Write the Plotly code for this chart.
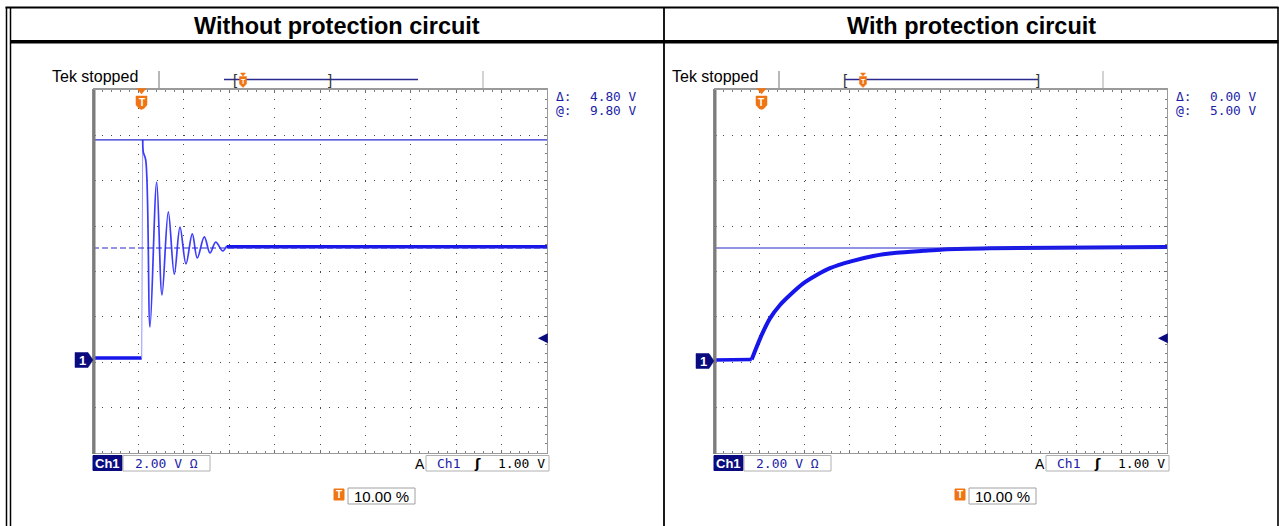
import plotly.graph_objects as go

W, H = 1279, 526


def X(px):
    return px / W


def Y(py):
    return 1 - py / H


# ---------------- data (time in divisions, voltage in volts, 2 V/div) ----------------
panel_titles = ["Without protection circuit", "With protection circuit"]

left_base_t = [0.0, 1.073]
left_base_v = [0.13, 0.13]
left_edge_t = [1.073, 1.095]
left_edge_v = [0.13, 9.74]
left_ring_t = [1.095, 1.108, 1.161, 1.256, 1.403, 1.520, 1.659, 1.791, 1.916,
               2.048, 2.187, 2.297, 2.452, 2.577, 2.703, 2.857, 2.945]
left_ring_v = [9.74, 9.21, 8.86, 1.50, 7.89, 2.91, 6.57, 3.83, 5.90,
               4.28, 5.60, 4.54, 5.47, 4.76, 5.24, 4.85, 5.07]
left_settled_t = [2.945, 10.0]
left_settled_v = [5.04, 5.04]
left_cursor_v = [9.75, 4.98]

right_base_t = [0.0, 0.832]
right_base_v = [0.04, 0.07]
right_rise_t = [0.832, 1.053, 1.236, 1.457, 1.678, 1.971, 2.267, 2.561, 3.002,
                3.517, 4.033, 4.620, 5.062, 6.093, 10.0]
right_rise_v = [0.07, 1.15, 1.88, 2.47, 2.91, 3.42, 3.79, 4.09, 4.38,
                4.63, 4.77, 4.86, 4.92, 4.97, 5.02]
right_cursor_v = [4.98]

cursor_delta = ["4.80 V", "0.00 V"]
cursor_at = ["9.80 V", "5.00 V"]
ch1_label = "Ch1"
ch1_scale = "2.00 V Ω"
trigger_source = "Ch1"
trigger_level_label = "1.00 V"
trigger_level_v = 1.0
trigger_pos_label = "10.00 %"
status_text = "Tek stopped"

# ---------------- styling / geometry ----------------
BLUE = "rgb(22,22,235)"
NAVY = "#0b0b80"
TXTBLUE = "#1c1ca6"
ORANGE = "#f07412"
SANS = "Liberation Sans, Arial, sans-serif"
MONO = "DejaVu Sans Mono, monospace"

TOP, BOT = 90, 453
PX_PER_V = (BOT - TOP) / 8 / 2
GROUND = 361
V_LO = -(BOT - GROUND) / PX_PER_V
V_HI = (GROUND - TOP) / PX_PER_V

panels = [
    dict(xa="x", ya="y", x0=93, x1=547, off=0, cx=["x3", "x4"], cy=["y3", "y4"], gnd=360),
    dict(xa="x2", ya="y2", x0=714, x1=1167, off=620, cx=["x5", "x6"], cy=["y5", "y6"], gnd=361),
]

fig = go.Figure()

# ---- traces: left panel
fig.add_trace(go.Scatter(x=left_base_t, y=left_base_v, mode="lines", xaxis="x", yaxis="y",
                         line=dict(color=BLUE, width=3.5), hoverinfo="skip"))
fig.add_trace(go.Scatter(x=left_edge_t, y=left_edge_v, mode="lines", xaxis="x", yaxis="y",
                         line=dict(color="rgb(150,150,255)", width=1), hoverinfo="skip"))
fig.add_trace(go.Scatter(x=left_ring_t, y=left_ring_v, mode="lines", xaxis="x", yaxis="y",
                         line=dict(color="rgb(60,60,250)", width=1.7, shape="spline", smoothing=1.0),
                         hoverinfo="skip"))
fig.add_trace(go.Scatter(x=left_settled_t, y=left_settled_v, mode="lines", xaxis="x", yaxis="y",
                         line=dict(color=BLUE, width=3.5), hoverinfo="skip"))
for i, c in enumerate(left_cursor_v):
    fig.add_trace(go.Scatter(x=[0, 10], y=[c, c], mode="lines", xaxis="x", yaxis="y",
                             line=dict(color="rgb(40,40,205)", width=1.2,
                                       dash="solid" if i == 0 else "6px,3px"),
                             hoverinfo="skip"))

# ---- traces: right panel
fig.add_trace(go.Scatter(x=right_base_t, y=right_base_v, mode="lines", xaxis="x2", yaxis="y2",
                         line=dict(color=BLUE, width=3.5), hoverinfo="skip"))
fig.add_trace(go.Scatter(x=right_rise_t, y=right_rise_v, mode="lines", xaxis="x2", yaxis="y2",
                         line=dict(color=BLUE, width=4, shape="spline", smoothing=0.8),
                         hoverinfo="skip"))
for c in right_cursor_v:
    fig.add_trace(go.Scatter(x=[0, 10], y=[c, c], mode="lines", xaxis="x2", yaxis="y2",
                             line=dict(color="rgb(40,40,205)", width=1.2), hoverinfo="skip"))

layout = dict(
    width=W, height=H, autosize=False,
    margin=dict(l=0, r=0, t=0, b=0, pad=0),
    paper_bgcolor="white", plot_bgcolor="white",
    showlegend=False,
)

shapes = []
annotations = []


def line(x0, y0, x1, y1, color="black", width=1, dash="solid"):
    shapes.append(dict(type="line", xref="paper", yref="paper",
                       x0=X(x0), y0=Y(y0), x1=X(x1), y1=Y(y1),
                       line=dict(color=color, width=width, dash=dash), layer="above"))


def poly(pts, color, lc=None):
    p = "M " + " L ".join(f"{X(a):.5f},{Y(b):.5f}" for a, b in pts) + " Z"
    shapes.append(dict(type="path", xref="paper", yref="paper", path=p,
                       fillcolor=color, line=dict(color=lc or color, width=0.5), layer="above"))


def rect(x0, y0, x1, y1, fill="white", lc="#a8a8a8", lw=1):
    shapes.append(dict(type="rect", xref="paper", yref="paper",
                       x0=X(x0), y0=Y(y0), x1=X(x1), y1=Y(y1),
                       fillcolor=fill, line=dict(color=lc, width=lw), layer="above"))


def text(t, x, y, size=12, color="black", family=SANS, xanchor="center", bold=False):
    annotations.append(dict(text=f"<b>{t}</b>" if bold else t, xref="paper", yref="paper",
                            x=X(x), y=Y(y), xanchor=xanchor, yanchor="middle",
                            showarrow=False, font=dict(size=size, color=color, family=family)))


# ---- table frame
line(5.5, 7.5, 1278.5, 7.5, width=2)
line(6.5, 7, 6.5, 526, width=1.5)
line(10.5, 7, 10.5, 526, width=1.5)
line(10, 41.7, 1278.5, 41.7, width=3.4)
line(664, 7, 664, 526, width=1.8)
line(1278, 7, 1278, 526, width=1.6)

text(panel_titles[0], 336.5, 26, size=23.5, bold=True)
text(panel_titles[1], 971, 26, size=23.5, bold=True)

for k, p in enumerate(panels):
    xa, ya = p["xa"], p["ya"]
    xn = xa.replace("x", "xaxis") if xa != "x" else "xaxis"
    yn = ya.replace("y", "yaxis") if ya != "y" else "yaxis"
    x0, x1, o = p["x0"], p["x1"], p["off"]
    xc = (x0 + x1) / 2
    common = dict(showticklabels=False, zeroline=False, fixedrange=True)
    layout[xn] = dict(domain=[X(x0), X(x1)], range=[0, 10], anchor=ya,
                      tick0=0, dtick=1, showgrid=True, gridcolor="#4a4a4a", gridwidth=1,
                      griddash="1px,8.08px",
                      ticks="inside", ticklen=3, tickcolor="#707070", tickwidth=1,
                      minor=dict(tick0=0, dtick=0.2, ticks="inside", ticklen=2,
                                 tickcolor="#808080", showgrid=False),
                      showline=True, linecolor="#9a9a9a", linewidth=1, mirror="allticks",
                      **common)
    layout[yn] = dict(domain=[Y(BOT), Y(TOP)], range=[V_LO, V_HI], anchor=xa,
                      tick0=V_LO, dtick=2, showgrid=True, gridcolor="#4a4a4a", gridwidth=1,
                      griddash="1px,8.08px",
                      ticks="inside", ticklen=3, tickcolor="#707070", tickwidth=1,
                      minor=dict(tick0=V_LO, dtick=0.4, ticks="inside", ticklen=2,
                                 tickcolor="#808080", showgrid=False),
                      showline=True, linecolor="#9a9a9a", linewidth=1, mirror="allticks",
                      **common)
    # centre cross lines with tick marks
    for j, (cxa, tk) in enumerate(zip(p["cx"], ["inside", "outside"])):
        layout[cxa.replace("x", "xaxis")] = dict(
            overlaying=xa, anchor="free", position=Y((TOP + BOT) / 2), range=[0, 10],
            tick0=0, dtick=0.2, ticks=tk, ticklen=2, tickcolor="#606060", showgrid=False,
            showline=(j == 0), linecolor="#a8a8a8", linewidth=1, layer="below traces", **common)
    for j, (cya, tk) in enumerate(zip(p["cy"], ["inside", "outside"])):
        layout[cya.replace("y", "yaxis")] = dict(
            overlaying=ya, anchor="free", position=X(xc), range=[V_LO, V_HI],
            tick0=V_LO, dtick=0.4, ticks=tk, ticklen=2, tickcolor="#606060", showgrid=False,
            showline=(j == 0), linecolor="#a8a8a8", linewidth=1, layer="below traces", **common)

    # graticule heavier left/top borders
    line(x0 + 1, TOP - 1, x0 + 1, BOT + 1, color="#7c7c7c", width=3)
    line(x0, TOP - 1, x1 + 1, TOP - 1, color="#9a9a9a", width=2)

    # status + record bar
    text(status_text, 50 + o, 76, size=16, family=SANS, xanchor="left")
    line(159 + o, 71, 159 + o, 88, color="#a0a0a0", width=1.5)
    line(483 + o, 71, 483 + o, 88, color="#c4c4c4", width=1.5)
    if k == 0:
        bl0, bl1, br0, br1, tpos = 224, 418, 235, 330, 243
    else:
        bl0, bl1, br0, br1, tpos = 845, 1038, 845, 1038, 863
    line(bl0, 79.5, bl1, 79.5, color="#2a2a90", width=1.3)
    for bx, ch in ((br0, "["), (br1, "]")):
        text(ch, bx, 80, size=15, color="#333", family=SANS)
    # small trigger marker on record bar
    poly([(tpos - 2.5, 73), (tpos + 2.5, 73), (tpos, 76)], ORANGE)
    poly([(tpos - 3.5, 76.5), (tpos + 3.5, 76.5), (tpos + 3.5, 84), (tpos, 87.5), (tpos - 3.5, 84)], ORANGE)
    text("T", tpos, 81, size=7, color="white", bold=True)

    # trigger marker on graticule
    tx = 141.5 + o
    poly([(tx - 4.5, 88.5), (tx + 4.5, 88.5), (tx, 94)], ORANGE)
    poly([(tx - 5.5, 96), (tx + 5.5, 96), (tx + 5.5, 105), (tx + 2.5, 108.5), (tx, 109.5),
          (tx - 2.5, 108.5), (tx - 5.5, 105)], ORANGE)
    text("T", tx, 102.5, size=10, color="white", bold=True, family=SANS)

    # cursor readouts
    text("Δ:", x1 + 7, 97, size=13, color=TXTBLUE, family=MONO, xanchor="left")
    text("@:", x1 + 7, 111, size=13, color=TXTBLUE, family=MONO, xanchor="left")
    text(cursor_delta[k], x1 + 92, 97, size=12.8, color=TXTBLUE, family=MONO, xanchor="right")
    text(cursor_at[k], x1 + 92, 111, size=12.8, color=TXTBLUE, family=MONO, xanchor="right")

    # ground marker "1"
    g = p["gnd"]
    poly([(x0 - 18, g - 7.5), (x0 - 5, g - 7.5), (x0, g), (x0 - 5, g + 7.5), (x0 - 18, g + 7.5)], NAVY)
    text("1", x0 - 11, g, size=13, color="white", bold=True, family=SANS)

    # trigger level arrow
    annotations.append(dict(xref=xa, yref=ya, x=9.8, y=trigger_level_v, ax=8, ay=0, text="",
                            showarrow=True, arrowhead=2, arrowsize=1.1, arrowwidth=1.8,
                            arrowcolor=NAVY))

    # bottom readouts
    rect(x0, 455.5, x0 + 29, 470.5, fill=NAVY, lc=NAVY)
    text(ch1_label, x0 + 14.5, 463.5, size=13, color="white", family=SANS, bold=True)
    rect(x0 + 30, 455.5, x0 + 117, 471, fill="white", lc="#b0b0b0")
    text(ch1_scale, x0 + 73, 463.5, size=13, color=TXTBLUE, family=MONO)
    text("A", x1 - 127, 463.5, size=14, color="black", family=SANS)
    rect(x1 - 121, 455.5, x1 + 2, 471, fill="white", lc="#b0b0b0")
    text(trigger_source, x1 - 99, 463.5, size=13, color=TXTBLUE, family=MONO)
    text("ʃ", x1 - 70, 463.5, size=13, color="black", family="DejaVu Sans", bold=True)
    text(trigger_level_label, x1, 463.5, size=13, color="black", family=MONO, xanchor="right")

    bc = 381 + o + (1 if k else 0)
    rect(bc - 47, 489, bc - 37, 500, fill=ORANGE, lc=ORANGE)
    text("T", bc - 42, 494.5, size=10, color="white", bold=True)
    rect(bc - 33, 488, bc + 34, 504, fill="white", lc="#a0a0a0")
    text(trigger_pos_label, bc, 496, size=15, color="black", family=SANS)

layout["shapes"] = shapes
layout["annotations"] = annotations
fig.update_layout(**layout)

fig.write_html("out.html", config={"displayModeBar": False, "staticPlot": True},
               post_script="document.body.style.margin='0px';document.body.style.overflow='hidden';")
